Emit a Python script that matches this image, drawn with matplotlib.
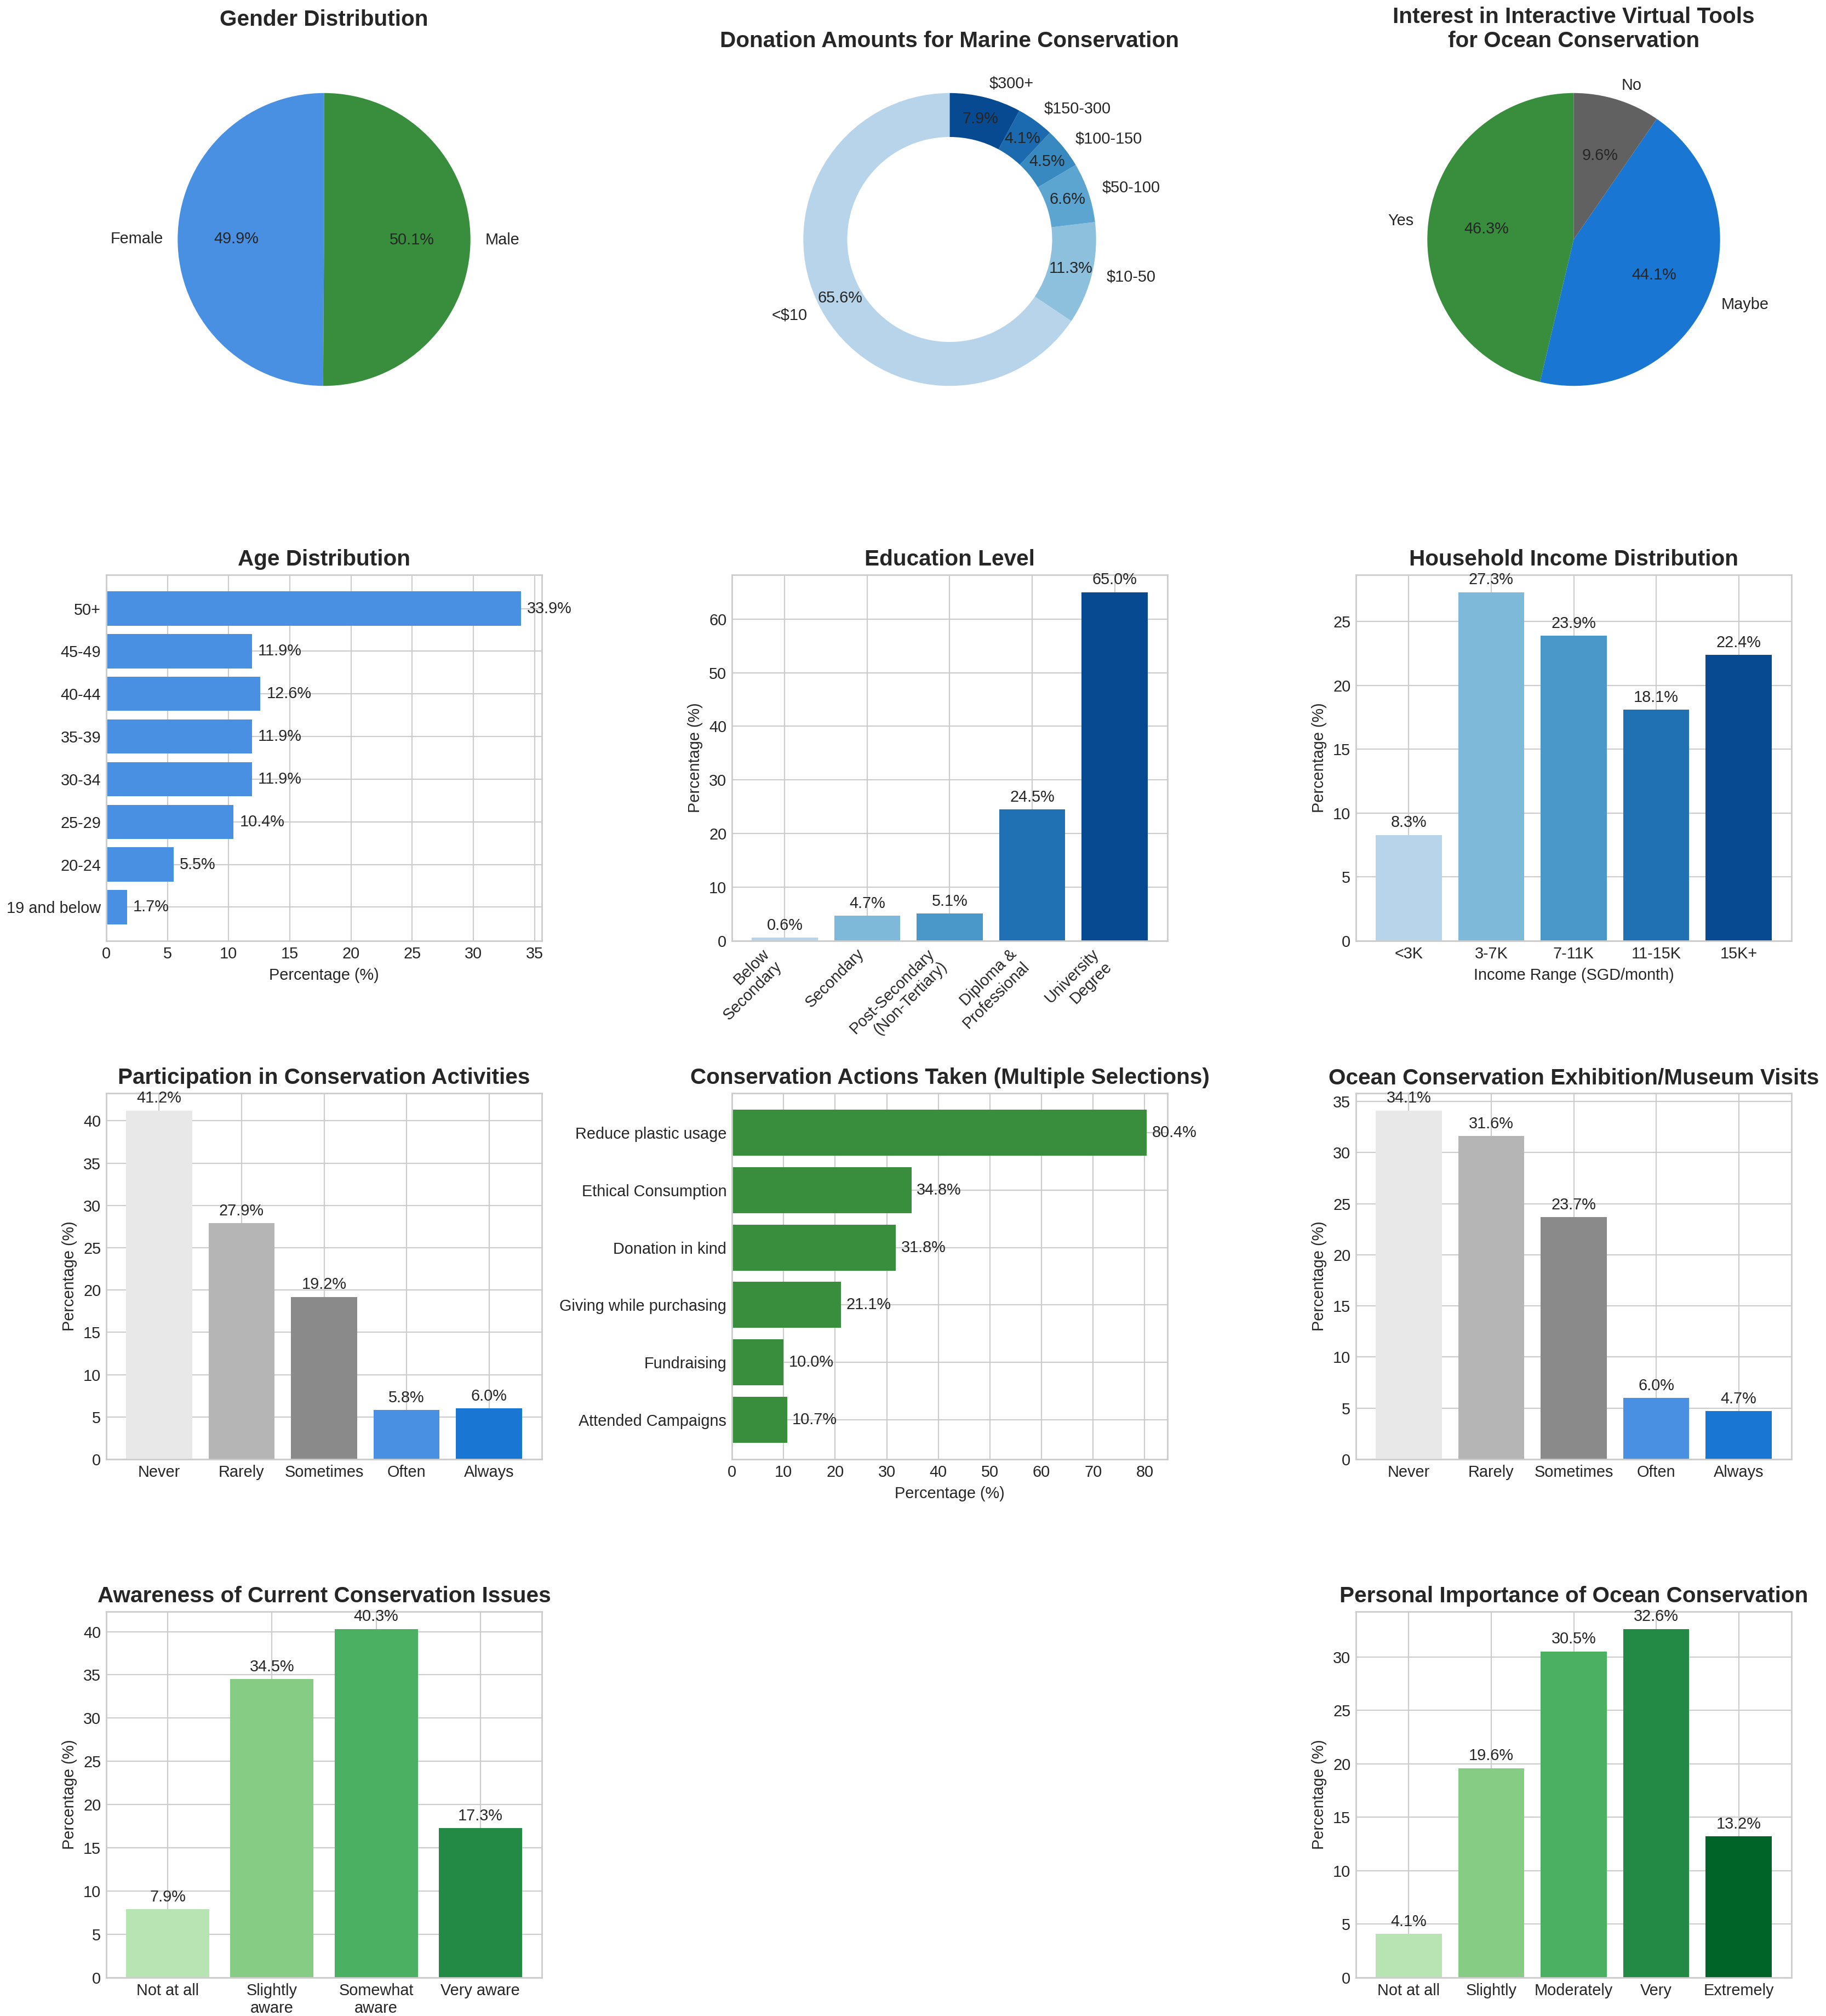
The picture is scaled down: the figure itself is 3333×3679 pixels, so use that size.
import numpy as np
import matplotlib
matplotlib.use("Agg")
import matplotlib.pyplot as plt

plt.style.use("seaborn-v0_8-whitegrid")
plt.rcParams["font.family"] = ["Liberation Sans", "DejaVu Sans"]
plt.rcParams["text.color"] = "#262626"

# ---- data ----
gender_labels = ["Female", "Male"]
gender_pct = [49.9, 50.1]

donation_labels = ["<$10", "$10-50", "$50-100", "$100-150", "$150-300", "$300+"]
donation_pct = [65.6, 11.3, 6.6, 4.5, 4.1, 7.9]

interest_labels = ["Yes", "Maybe", "No"]
interest_pct = [46.3, 44.1, 9.6]

age_labels = ["19 and below", "20-24", "25-29", "30-34", "35-39", "40-44", "45-49", "50+"]
age_pct = [1.7, 5.5, 10.4, 11.9, 11.9, 12.6, 11.9, 33.9]

edu_labels = ["Below\nSecondary", "Secondary", "Post-Secondary\n(Non-Tertiary)",
              "Diploma &\nProfessional", "University\nDegree"]
edu_pct = [0.6, 4.7, 5.1, 24.5, 65.0]

income_labels = ["<3K", "3-7K", "7-11K", "11-15K", "15K+"]
income_pct = [8.3, 27.3, 23.9, 18.1, 22.4]

freq_labels = ["Never", "Rarely", "Sometimes", "Often", "Always"]
participation_pct = [41.2, 27.9, 19.2, 5.8, 6.0]
visits_pct = [34.1, 31.6, 23.7, 6.0, 4.7]

action_labels = ["Attended Campaigns", "Fundraising", "Giving while purchasing",
                 "Donation in kind", "Ethical Consumption", "Reduce plastic usage"]
action_pct = [10.7, 10.0, 21.1, 31.8, 34.8, 80.4]

aware_labels = ["Not at all", "Slightly\naware", "Somewhat\naware", "Very aware"]
aware_pct = [7.9, 34.5, 40.3, 17.3]

importance_labels = ["Not at all", "Slightly", "Moderately", "Very", "Extremely"]
importance_pct = [4.1, 19.6, 30.5, 32.6, 13.2]

# ---- colours ----
BLUE = "#4A90E2"
DBLUE = "#1976D2"
GREEN = "#388E3C"
GREY = "#616161"
freq_colors = ["#E8E8E8", "#B5B5B5", "#8A8A8A", BLUE, DBLUE]
blues5 = plt.cm.Blues(np.linspace(0.3, 0.9, 5))
blues6 = plt.cm.Blues(np.linspace(0.3, 0.9, 6))
greens5 = plt.cm.Greens(np.linspace(0.3, 0.9, 5))

# ---- layout (pixels of the final image) ----
W, H = 3333, 3679
fig = plt.figure(figsize=(W / 200, H / 200), dpi=200)
col_left = [194, 1336, 2475]
row_top = [103, 1049, 1995, 2941]
AW, AH = 795, 668


def make_ax(r, c):
    return fig.add_axes([col_left[c] / W, 1 - (row_top[r] + AH) / H, AW / W, AH / H])


TFS = 14.6
FS = 10.4


def vbars(ax, labels, vals, colors, title, xlabel=None, rot=0):
    x = np.arange(len(vals))
    bars = ax.bar(x, vals, color=colors, width=0.8)
    for b, v in zip(bars, vals):
        ax.annotate(f"{v:.1f}%", (b.get_x() + b.get_width() / 2, v),
                    xytext=(0, 3), textcoords="offset points",
                    ha="center", va="bottom", fontsize=FS)
    ax.set_xticks(x)
    if rot:
        ax.set_xticklabels(labels, rotation=rot, ha="right")
    else:
        ax.set_xticklabels(labels)
    ax.set_ylabel("Percentage (%)", fontsize=FS)
    if xlabel:
        ax.set_xlabel(xlabel, fontsize=FS)
    ax.set_title(title, fontsize=TFS, fontweight="bold")
    ax.tick_params(labelsize=FS)


def hbars(ax, labels, vals, color, title, gap):
    y = np.arange(len(vals))
    ax.barh(y, vals, color=color, height=0.8)
    for yy, v in zip(y, vals):
        ax.text(v + gap, yy, f"{v:.1f}%", va="center", ha="left", fontsize=FS)
    ax.set_yticks(y)
    ax.set_yticklabels(labels)
    ax.set_xlabel("Percentage (%)", fontsize=FS)
    ax.set_title(title, fontsize=TFS, fontweight="bold")
    ax.tick_params(labelsize=FS)


# Row 1: pies
ax = make_ax(0, 0)
ax.pie(gender_pct, labels=gender_labels, colors=[BLUE, GREEN], autopct="%1.1f%%",
       startangle=90, textprops={"fontsize": FS})
ax.set_title("Gender Distribution", fontsize=TFS, fontweight="bold", pad=20)

ax = make_ax(0, 1)
ax.pie(donation_pct, labels=donation_labels, colors=blues6, autopct="%1.1f%%",
       startangle=90, pctdistance=0.85, wedgeprops={"width": 0.3},
       textprops={"fontsize": FS})
ax.set_title("Donation Amounts for Marine Conservation", fontsize=TFS, fontweight="bold")

ax = make_ax(0, 2)
ax.pie(interest_pct, labels=interest_labels, colors=[GREEN, DBLUE, GREY], autopct="%1.1f%%",
       startangle=90, textprops={"fontsize": FS})
ax.set_title("Interest in Interactive Virtual Tools\nfor Ocean Conservation",
             fontsize=TFS, fontweight="bold")

# Row 2
hbars(make_ax(1, 0), age_labels, age_pct, BLUE, "Age Distribution", 0.5)
vbars(make_ax(1, 1), edu_labels, edu_pct, blues5, "Education Level", rot=45)
vbars(make_ax(1, 2), income_labels, income_pct, blues5, "Household Income Distribution",
      xlabel="Income Range (SGD/month)")

# Row 3
vbars(make_ax(2, 0), freq_labels, participation_pct, freq_colors,
      "Participation in Conservation Activities")
hbars(make_ax(2, 1), action_labels, action_pct, GREEN,
      "Conservation Actions Taken (Multiple Selections)", 1.0)
vbars(make_ax(2, 2), freq_labels, visits_pct, freq_colors,
      "Ocean Conservation Exhibition/Museum Visits")

# Row 4
vbars(make_ax(3, 0), aware_labels, aware_pct, greens5[:4],
      "Awareness of Current Conservation Issues")
vbars(make_ax(3, 2), importance_labels, importance_pct, greens5,
      "Personal Importance of Ocean Conservation")

fig.savefig("out.png", dpi=200, facecolor="white")
